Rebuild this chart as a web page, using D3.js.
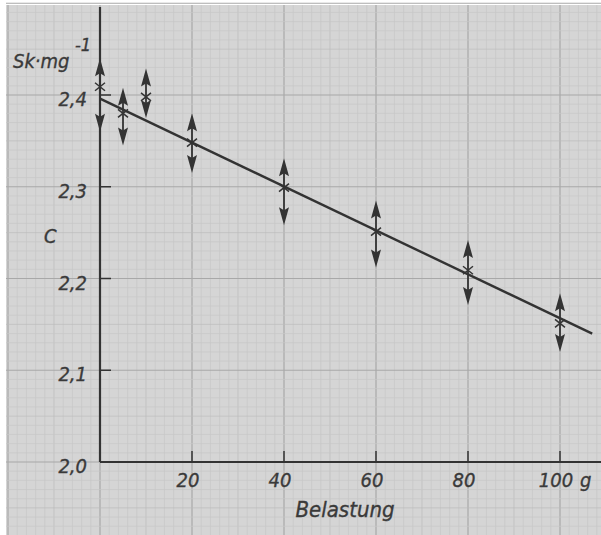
<!DOCTYPE html>
<html lang="de">
<head>
    <meta charset="UTF-8">
    <title>C vs Belastung</title>
    <script src="https://d3js.org/d3.v7.min.js"></script>
<style>
    body { margin: 0; background: #fff; }
    svg { display: block; }
    text { font-family: 'DejaVu Sans Condensed', 'DejaVu Sans', sans-serif; font-style: oblique; fill: #3a3a3a; stroke: #3a3a3a; stroke-width: 0.35px; }
</style>
</head>
<body>
</body>
<script>

const loads  = [0, 5, 10, 20, 40, 60, 80, 100];
const cValue = [2.409, 2.380, 2.398, 2.348, 2.299, 2.251, 2.209, 2.151];
const cUpper = [2.440, 2.408, 2.429, 2.380, 2.331, 2.285, 2.242, 2.184];
const cLower = [2.360, 2.345, 2.375, 2.315, 2.258, 2.212, 2.171, 2.120];

// fitted straight line
const fitX = [0, 107];
const fitY = [2.396, 2.140];

const xTicks = [20, 40, 60, 80, 100];
const xTickLabels = ['20', '40', '60', '80', '100'];
const yTicks = [2.0, 2.1, 2.2, 2.3, 2.4];
const yTickLabels = ['2,0', '2,1', '2,2', '2,3', '2,4'];

const W = 601, H = 535;
const ink = '#333';

const x = d3.scaleLinear().domain([0, 100]).range([100, 560]);
const y = d3.scaleLinear().domain([2.0, 2.4]).range([462, 95]);

const svg = d3.select('body').append('svg')
    .attr('width', W)
    .attr('height', H);

// graph paper
svg.append('rect')
    .attr('x', 6).attr('y', 5)
    .attr('width', W - 6).attr('height', H - 5)
    .attr('fill', '#d5d5d5');

const paper = svg.append('g');
const gx = d3.range(-20, 110.1, 2);
const gy = d3.range(1.92, 2.5, 0.01);
const level = (v, step) => {
    const r = Math.round(v / step * 1000) / 1000;
    return Math.abs(r - Math.round(r)) < 1e-6;
};
paper.selectAll('line.vx')
    .data(gx)
    .enter()
    .append('line')
    .attr('x1', d => x(d)).attr('x2', d => x(d))
    .attr('y1', 5).attr('y2', H)
    .style('stroke', d => level(d, 20) ? '#a8a8a8' : level(d, 10) ? '#bcbcbc' : '#c7c7c7')
    .style('stroke-width', d => level(d, 20) ? 1.2 : 0.7);
paper.selectAll('line.hy')
    .data(gy)
    .enter()
    .append('line')
    .attr('y1', d => y(d)).attr('y2', d => y(d))
    .attr('x1', 6).attr('x2', W)
    .style('stroke', d => level(d, 0.1) ? '#a8a8a8' : level(d, 0.05) ? '#bcbcbc' : '#c7c7c7')
    .style('stroke-width', d => level(d, 0.1) ? 1.2 : 0.7);

// axes
svg.append('line')
    .attr('x1', x(0)).attr('x2', x(0))
    .attr('y1', 7).attr('y2', y(2.0))
    .style('stroke', ink).style('stroke-width', 2.2);
svg.append('line')
    .attr('x1', x(0)).attr('x2', W)
    .attr('y1', y(2.0)).attr('y2', y(2.0))
    .style('stroke', ink).style('stroke-width', 2.2);

svg.selectAll('line.xt')
    .data(xTicks)
    .enter()
    .append('line')
    .attr('x1', d => x(d)).attr('x2', d => x(d))
    .attr('y1', y(2.0)).attr('y2', y(2.0) - 11)
    .style('stroke', ink).style('stroke-width', 1.5);
svg.selectAll('line.yt')
    .data(yTicks.slice(1))
    .enter()
    .append('line')
    .attr('x1', x(0)).attr('x2', x(0) + 11)
    .attr('y1', d => y(d)).attr('y2', d => y(d))
    .style('stroke', ink).style('stroke-width', 1.5);

svg.selectAll('text.xl')
    .data(xTicks)
    .enter()
    .append('text')
    .attr('x', d => x(d) - 4)
    .attr('y', 487)
    .attr('text-anchor', 'middle')
    .style('font-size', '20px')
    .text((d, i) => xTickLabels[i]);
svg.append('text')
    .attr('x', x(100) + 20)
    .attr('y', 487)
    .style('font-size', '20px')
    .text('g');

svg.selectAll('text.yl')
    .data(yTicks)
    .enter()
    .append('text')
    .attr('x', 87)
    .attr('y', d => y(d) + 11)
    .attr('text-anchor', 'end')
    .style('font-size', '20px')
    .text((d, i) => yTickLabels[i]);

svg.append('text')
    .attr('x', 345).attr('y', 517)
    .attr('text-anchor', 'middle')
    .style('font-size', '22px')
    .text('Belastung');
svg.append('text')
    .attr('x', 44).attr('y', 243)
    .style('font-size', '20px')
    .text('C');
svg.append('text')
    .attr('x', 13).attr('y', 68)
    .style('font-size', '20px')
    .text('Sk·mg');
svg.append('text')
    .attr('x', 75).attr('y', 51)
    .style('font-size', '18px')
    .text('-1');

// fitted line
svg.append('line')
    .attr('x1', x(fitX[0])).attr('y1', y(fitY[0]))
    .attr('x2', x(fitX[1])).attr('y2', y(fitY[1]))
    .style('stroke', ink).style('stroke-width', 2.4);

// points: cross with arrows up and down
const pts = loads.map((l, i) => ({ l, c: cValue[i], hi: cUpper[i], lo: cLower[i] }));
const g = svg.selectAll('g.pt')
    .data(pts)
    .enter()
    .append('g');

g.append('line')
    .attr('x1', d => x(d.l)).attr('x2', d => x(d.l))
    .attr('y1', d => y(d.hi) + 4).attr('y2', d => y(d.lo) - 4)
    .style('stroke', ink).style('stroke-width', 1.8);
g.append('path')
    .attr('d', d => {
        const cx = x(d.l), t = y(d.hi);
        return `M${cx},${t} L${cx + 5},${t + 18} L${cx},${t + 15} L${cx - 5},${t + 18} Z`;
    })
    .style('fill', ink);
g.append('path')
    .attr('d', d => {
        const cx = x(d.l), t = y(d.lo);
        return `M${cx},${t} L${cx + 5},${t - 18} L${cx},${t - 15} L${cx - 5},${t - 18} Z`;
    })
    .style('fill', ink);
g.append('path')
    .attr('d', d => {
        const cx = x(d.l), cy = y(d.c), s = 5;
        return `M${cx - s},${cy - s * 0.8} L${cx + s},${cy + s * 0.8} M${cx + s},${cy - s * 0.8} L${cx - s},${cy + s * 0.8}`;
    })
    .style('stroke', ink)
    .style('stroke-width', 1.5)
    .style('fill', 'none');

</script>
</html>
